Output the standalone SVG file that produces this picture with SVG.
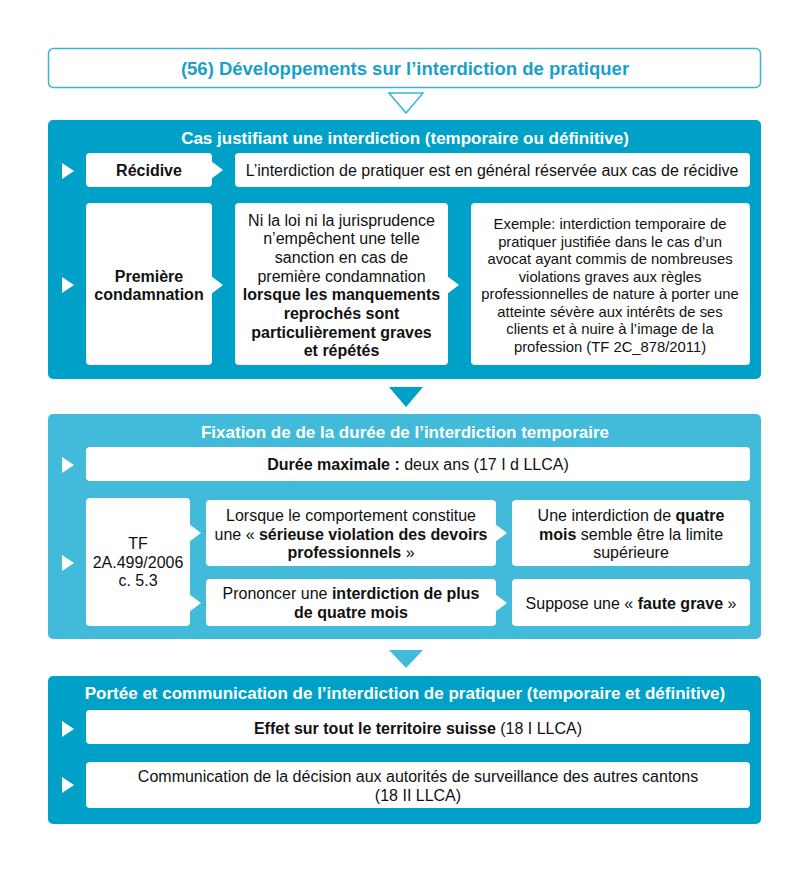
<svg xmlns="http://www.w3.org/2000/svg" width="810" height="873" viewBox="0 0 810 873">
<style>
text{font-family:"Liberation Sans",Arial,sans-serif;fill:#111;text-anchor:middle}
.b{font-weight:bold}
.t{font-size:16px}
.s{font-size:14.8px}
.h{font-size:17px;font-weight:bold;fill:#fff}
.box{fill:#fff}
.dark{fill:#00A1C9}
.light{fill:#42BAD9}
.mk{fill:#fff}
</style>
<rect width="810" height="873" fill="#fff"/>
<g id="title">
<rect x="48.5" y="48.5" width="712" height="39" rx="5" fill="#fff" stroke="#3AB5D6" stroke-width="1.5"/>
<text x="405" y="75" class="b" style="font-size:18.5px;fill:#1A9FCB">(56) Développements sur l’interdiction de pratiquer</text>
</g>
<g id="connectors">
<polygon points="389,93 423,93 406,113" fill="#fff" stroke="#3AB5D6" stroke-width="1.5"/>
<polygon points="389,387 423,387 406,407" class="dark"/>
<polygon points="389,650 423,650 406,668" class="light"/>
</g>
<g id="section1">
<rect x="48" y="120" width="713" height="259" rx="5" class="dark"/>
<text x="405" y="144" class="h">Cas justifiant une interdiction (temporaire ou définitive)</text>
<polygon points="62,163 74,171 62,179" class="mk"/>
<polygon points="62,277 74,285 62,293" class="mk"/>
</g>
<g id="recidive">
<rect x="86" y="153" width="126" height="34" rx="4" class="box"/>
<polygon points="211,161 223,170 211,179" class="box"/>
<text x="149" y="176" class="t b">Récidive</text>
</g>
<g id="recidive-text">
<rect x="235" y="153" width="515" height="34" rx="4" class="box"/>
<text x="492" y="176" class="t">L’interdiction de pratiquer est en général réservée aux cas de récidive</text>
</g>
<g id="premiere">
<rect x="86" y="203" width="126" height="162" rx="4" class="box"/>
<polygon points="211,276 223,285 211,294" class="box"/>
<text x="149" y="282" class="t b">Première</text>
<text x="149" y="300" class="t b">condamnation</text>
</g>
<g id="premiere-regle">
<rect x="235" y="203" width="213" height="162" rx="4" class="box"/>
<polygon points="447,276 459,285 447,294" class="box"/>
<text x="341.5" y="226" class="t">Ni la loi ni la jurisprudence</text>
<text x="341.5" y="244" class="t">n’empêchent une telle</text>
<text x="341.5" y="263" class="t">sanction en cas de</text>
<text x="341.5" y="282" class="t">première condamnation</text>
<text x="341.5" y="300" class="t b">lorsque les manquements</text>
<text x="341.5" y="319" class="t b">reprochés sont</text>
<text x="341.5" y="338" class="t b">particulièrement graves</text>
<text x="341.5" y="356" class="t b">et répétés</text>
</g>
<g id="premiere-exemple">
<rect x="471" y="203" width="279" height="162" rx="4" class="box"/>
<text x="610" y="229" class="s">Exemple: interdiction temporaire de</text>
<text x="610" y="247" class="s">pratiquer justifiée dans le cas d’un</text>
<text x="610" y="264" class="s">avocat ayant commis de nombreuses</text>
<text x="610" y="282" class="s">violations graves aux règles</text>
<text x="610" y="299" class="s">professionnelles de nature à porter une</text>
<text x="610" y="317" class="s">atteinte sévère aux intérêts de ses</text>
<text x="610" y="334" class="s">clients et à nuire à l’image de la</text>
<text x="610" y="352" class="s">profession (TF 2C_878/2011)</text>
</g>
<g id="section2">
<rect x="48" y="414" width="713" height="225" rx="5" class="light"/>
<text x="405" y="438" class="h">Fixation de de la durée de l’interdiction temporaire</text>
<polygon points="62,457 74,465 62,473" class="mk"/>
<polygon points="62,555 74,563 62,571" class="mk"/>
</g>
<g id="duree">
<rect x="86" y="447" width="664" height="34" rx="4" class="box"/>
<text x="418" y="470" class="t"><tspan class="b">Durée maximale :</tspan> deux ans (17 I d LLCA)</text>
</g>
<g id="tf">
<rect x="86" y="498" width="104" height="128" rx="4" class="box"/>
<polygon points="189,524 201,533 189,542" class="box"/>
<polygon points="189,594 201,603 189,612" class="box"/>
<text x="138" y="549" class="t">TF</text>
<text x="138" y="568" class="t">2A.499/2006</text>
<text x="138" y="586" class="t">c. 5.3</text>
</g>
<g id="lorsque">
<rect x="206" y="500" width="290" height="66" rx="4" class="box"/>
<polygon points="495,524 507,533 495,542" class="box"/>
<text x="351" y="521" class="t">Lorsque le comportement constitue</text>
<text x="351" y="540" class="t">une « <tspan class="b">sérieuse violation des devoirs</tspan></text>
<text x="351" y="558" class="t"><tspan class="b">professionnels</tspan> »</text>
</g>
<g id="quatre-mois">
<rect x="512" y="500" width="238" height="66" rx="4" class="box"/>
<text x="631" y="521" class="t">Une interdiction de <tspan class="b">quatre</tspan></text>
<text x="631" y="540" class="t"><tspan class="b">mois</tspan> semble être la limite</text>
<text x="631" y="558" class="t">supérieure</text>
</g>
<g id="prononcer">
<rect x="206" y="579" width="290" height="47" rx="4" class="box"/>
<polygon points="495,594 507,603 495,612" class="box"/>
<text x="351" y="599" class="t">Prononcer une <tspan class="b">interdiction de plus</tspan></text>
<text x="351" y="618" class="t b">de quatre mois</text>
</g>
<g id="faute">
<rect x="512" y="579" width="238" height="47" rx="4" class="box"/>
<text x="631" y="609" class="t">Suppose une « <tspan class="b">faute grave</tspan> »</text>
</g>
<g id="section3">
<rect x="48" y="676" width="713" height="148" rx="5" class="dark"/>
<text x="405" y="699" class="h">Portée et communication de l’interdiction de pratiquer (temporaire et définitive)</text>
<polygon points="62,721 74,729 62,737" class="mk"/>
<polygon points="62,777 74,785 62,793" class="mk"/>
</g>
<g id="effet">
<rect x="86" y="710" width="664" height="34" rx="4" class="box"/>
<text x="418" y="734" class="t"><tspan class="b">Effet sur tout le territoire suisse</tspan> (18 I LLCA)</text>
</g>
<g id="communication">
<rect x="86" y="762" width="664" height="46" rx="4" class="box"/>
<text x="418" y="782" class="t">Communication de la décision aux autorités de surveillance des autres cantons</text>
<text x="418" y="801" class="t">(18 II LLCA)</text>
</g>
</svg>
